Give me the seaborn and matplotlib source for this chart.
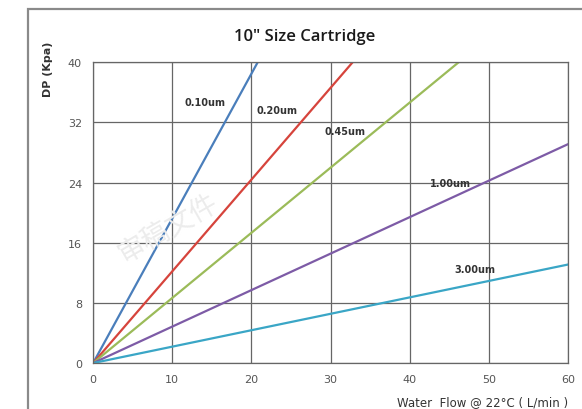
import numpy as np
import pandas as pd
import seaborn as sns
import matplotlib.pyplot as plt
from matplotlib.patches import Rectangle

# pressure drop lines (flow L/min -> DP Kpa)
sizes = ['0.10um', '0.20um', '0.45um', '1.00um', '3.00um']
flow_end = [20.8, 32.8, 46.2, 60, 60]
dp_end = [40, 40, 40, 29.1, 13.1]
colors = ['#4a7ebb', '#d6443c', '#9bbb59', '#7d5ba6', '#3aa6c6']
label_x = [14.1, 23.2, 31.8, 45.1, 48.2]
label_y = [34.7, 33.6, 30.9, 24.0, 12.5]

rows = []
for s, fx, dy in zip(sizes, flow_end, dp_end):
    rows.append((s, 0, 0))
    rows.append((s, fx, dy))
df = pd.DataFrame(rows, columns=['size', 'flow', 'dp'])

sns.set_style('white')
plt.rcParams['font.family'] = ['DejaVu Sans', 'Noto Sans CJK SC']

fig = plt.figure(figsize=(5.82, 4.10), dpi=100)
ax = fig.add_axes([0.160, 0.112, 0.816, 0.734])

# outer frame
fig.patches.append(Rectangle((0.048, -0.05), 1.0, 1.026, transform=fig.transFigure,
                             fill=False, edgecolor='#8a8a8a', linewidth=1.6))

sns.lineplot(data=df, x='flow', y='dp', hue='size', palette=colors,
             legend=False, linewidth=1.6, ax=ax)

ax.set_xlim(0, 60)
ax.set_ylim(0, 40)
ax.set_xticks(np.arange(0, 61, 10))
ax.set_yticks(np.arange(0, 41, 8))
ax.grid(True, color='#666666', linewidth=0.9)
ax.set_axisbelow(True)
for sp in ax.spines.values():
    sp.set_color('#666666')
    sp.set_linewidth(0.9)
ax.tick_params(axis='both', length=0, labelsize=8, labelcolor='#555555', pad=8)
ax.set_xlabel('')
ax.set_ylabel('')

for s, lx, ly in zip(sizes, label_x, label_y):
    ax.text(lx, ly, s, fontsize=7, fontweight='bold', color='#333333',
            ha='center', va='center')

fig.text(0.524, 0.91, '10" Size Cartridge', fontsize=12, fontweight='semibold',
         ha='center', va='center', color='#1a1a1a', family=['Open Sans', 'DejaVu Sans'])
fig.text(0.082, 0.83, 'DP (Kpa)', fontsize=8, fontweight='bold', rotation=90,
         ha='center', va='center', color='#333333')
fig.text(0.83, 0.018, 'Water  Flow @ 22°C ( L/min )', fontsize=8.5, ha='center',
         va='center', color='#333333')

# faint watermark
fig.text(0.29, 0.44, '审稿文件', fontsize=20, rotation=30, color='#ececec',
         ha='center', va='center', family=['Noto Sans CJK SC'], zorder=0)

fig.savefig('out.png', dpi=100)
